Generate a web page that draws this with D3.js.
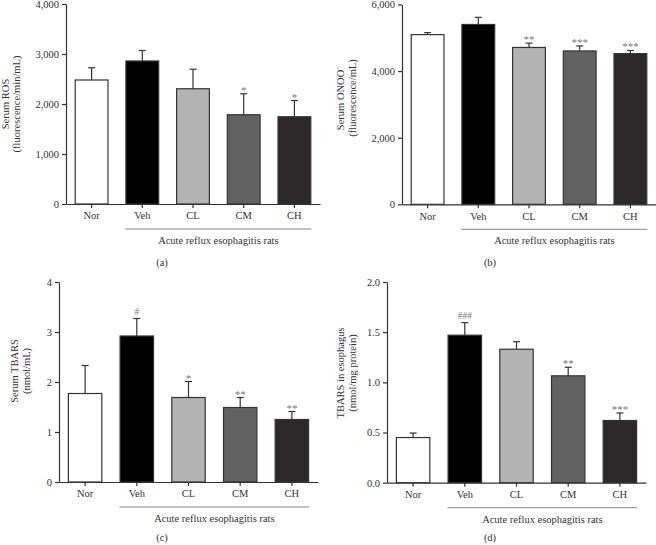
<!DOCTYPE html>
<html><head><meta charset="utf-8">
<script src="https://cdn.jsdelivr.net/npm/d3@7"></script>
<style>
body{margin:0;background:#fff;}
svg text{font-family:"Liberation Serif","DejaVu Serif",serif;fill:#333;}
</style></head>
<body>
<svg id="c" width="656" height="545"></svg>
<script>
const categories = ["Nor","Veh","CL","CM","CH"];
const colors = ["#ffffff","#000000","#b3b3b3","#626262","#2d292a"];
const groupLabel = "Acute reflux esophagitis rats";

// Panel (a) Serum ROS
const rosMean = [2480, 2860, 2305, 1785, 1745];
const rosErr  = [245, 210, 390, 420, 325];
const rosMarks = ["", "", "", "*", "*"];
const rosTicks = [0, 1000, 2000, 3000, 4000];

// Panel (b) Serum ONOO-
const onooMean = [5095, 5400, 4710, 4605, 4525];
const onooErr  = [60, 215, 130, 150, 95];
const onooMarks = ["", "", "**", "***", "***"];
const onooTicks = [0, 2000, 4000, 6000];

// Panel (c) Serum TBARS
const stbMean = [1.77, 2.92, 1.69, 1.49, 1.25];
const stbErr  = [0.56, 0.35, 0.32, 0.20, 0.16];
const stbMarks = ["", "#", "*", "**", "**"];
const stbTicks = [0, 1, 2, 3, 4];

// Panel (d) TBARS in esophagus
const etbMean = [0.45, 1.47, 1.33, 1.065, 0.62];
const etbErr  = [0.045, 0.125, 0.075, 0.085, 0.075];
const etbMarks = ["", "###", "", "**", "***"];
const etbTicks = [0, 0.5, 1.0, 1.5, 2.0];

const svg = d3.select("#c");

function panel(o){
  const g = svg.append("g");
  const x = d3.scaleBand().domain(categories).range([o.x0, o.x1]).paddingInner(0.33).paddingOuter(0.17);
  const y = d3.scaleLinear().domain([0, o.ticks[o.ticks.length-1]]).range([o.yb, o.yt]);
  const yAxis = d3.axisLeft(y).tickValues(o.ticks).tickFormat(o.fmt).tickSize(4).tickSizeOuter(0);
  const ya = g.append("g").attr("transform",`translate(${o.x0},0)`).call(yAxis);
  ya.select(".domain").attr("stroke","#333").attr("stroke-width",1.2);
  ya.selectAll(".tick line").attr("stroke","#333").attr("stroke-width",1.2);
  ya.selectAll(".tick text").attr("font-size","10.5px").attr("fill","#333").attr("x",-7)
    .style("font-family","'Liberation Serif',serif");
  const xAxis = d3.axisBottom(x).tickSize(4).tickSizeOuter(0);
  const xa = g.append("g").attr("transform",`translate(0,${o.yb})`).call(xAxis);
  xa.select(".domain").attr("stroke","#333").attr("stroke-width",1.2);
  xa.selectAll(".tick line").attr("stroke","#333").attr("stroke-width",1.2);
  xa.selectAll(".tick text").attr("font-size","10.5px").attr("fill","#333").attr("y",8)
    .style("font-family","'Liberation Serif',serif");

  const bw = x.bandwidth();
  // error bars (upper only)
  g.selectAll(".eb").data(categories).enter().append("line")
    .attr("x1",d=>x(d)+bw/2).attr("x2",d=>x(d)+bw/2)
    .attr("y1",(d,i)=>y(o.mean[i])).attr("y2",(d,i)=>y(o.mean[i]+o.err[i]))
    .attr("stroke","#333").attr("stroke-width",1.2);
  g.selectAll(".cap").data(categories).enter().append("line")
    .attr("x1",d=>x(d)+bw/2-3.5).attr("x2",d=>x(d)+bw/2+3.5)
    .attr("y1",(d,i)=>y(o.mean[i]+o.err[i])).attr("y2",(d,i)=>y(o.mean[i]+o.err[i]))
    .attr("stroke","#333").attr("stroke-width",1.2);
  // bars
  g.selectAll(".bar").data(categories).enter().append("rect")
    .attr("x",d=>x(d)+0.6).attr("width",bw-1.2)
    .attr("y",(d,i)=>y(o.mean[i])).attr("height",(d,i)=>o.yb-y(o.mean[i]))
    .attr("fill",(d,i)=>colors[i]).attr("stroke","#333").attr("stroke-width",1.2);
  // significance marks
  g.selectAll(".mk").data(categories).enter().append("text")
    .attr("x",d=>x(d)+bw/2)
    .attr("y",(d,i)=>y(o.mean[i]+o.err[i]) - (o.marks[i].includes("#")?4:0))
    .attr("text-anchor","middle").attr("font-size",(d,i)=>o.marks[i].includes("#")?"9.5px":"11px")
    .style("fill","#777")
    .text((d,i)=>o.marks[i]);
  // group line
  const gx0 = x("Veh"), gx1 = x("CH")+bw;
  g.append("line").attr("x1",gx0).attr("x2",gx1).attr("y1",o.yb+25).attr("y2",o.yb+25)
    .attr("stroke","#888").attr("stroke-width",1);
  g.append("text").attr("x",(gx0+gx1)/2).attr("y",o.yb+40).attr("text-anchor","middle")
    .attr("font-size","10.5px").text(groupLabel);
  g.append("text").attr("x",o.letterX).attr("y",o.letterY).attr("text-anchor","middle")
    .attr("font-size","10.5px").text(o.letter);
  // y title
  const cy = o.titleY;
  o.title.forEach((t,k)=>{
    const tx = g.append("text").attr("transform",`translate(${o.titleX[k]},${cy}) rotate(-90)`)
      .attr("text-anchor","middle").attr("font-size","10.5px");
    if (typeof t === "string") tx.text(t);
    else { tx.append("tspan").text(t[0]); tx.append("tspan").attr("dy",-4).attr("font-size","7px").text(t[1]); }
  });
}

const fmtComma = d3.format(",");
panel({x0:66, x1:320, yt:4, yb:204, ticks:rosTicks, fmt:fmtComma, mean:rosMean, err:rosErr, marks:rosMarks,
  title:["Serum ROS","(fluorescence/min/mL)"], titleX:[9,20], titleY:104, letter:"(a)", letterX:162, letterY:266});
panel({x0:402, x1:656, yt:4.5, yb:204.3, ticks:onooTicks, fmt:fmtComma, mean:onooMean, err:onooErr, marks:onooMarks,
  title:[["Serum ONOO","−"],"(fluorescence/mL)"], titleX:[344,356], titleY:98, letter:"(b)", letterX:490, letterY:266});
panel({x0:59, x1:318, yt:282, yb:482, ticks:stbTicks, fmt:d3.format("d"), mean:stbMean, err:stbErr, marks:stbMarks,
  title:["Serum TBARS","(nmol/mL)"], titleX:[18,30], titleY:371, letter:"(c)", letterX:162, letterY:541});
panel({x0:387, x1:646, yt:282, yb:482.7, ticks:etbTicks, fmt:d3.format(".1f"), mean:etbMean, err:etbErr, marks:etbMarks,
  title:["TBARS in esophagus","(nmol/mg protein)"], titleX:[344,356], titleY:373, letter:"(d)", letterX:490, letterY:541});
</script>
</body></html>
